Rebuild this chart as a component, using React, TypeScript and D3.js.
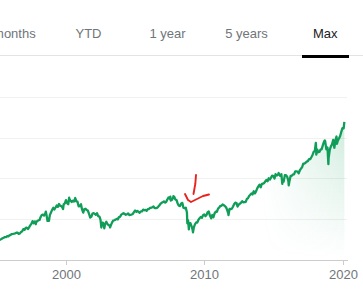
import React from "react";
import * as d3 from "d3";

// Tabs above the chart
const tabLabels = ["6 months", "YTD", "1 year", "5 years", "Max"];
const selectedTab = "Max";

// S&P 500 month-end closes, Jan 1995 .. Jan 2020
const startYear = 1995;
const monthlyClose = [
  470, 487, 500, 515, 533, 545, 562, 562, 584, 582, 605, 616,
  636, 640, 645, 654, 669, 671, 640, 652, 687, 705, 757, 741,
  786, 791, 757, 801, 848, 885, 954, 899, 947, 915, 955, 970,
  980, 1049, 1102, 1112, 1091, 1134, 1121, 957, 1017, 1099, 1164, 1229,
  1280, 1238, 1286, 1335, 1302, 1373, 1329, 1320, 1283, 1363, 1389, 1469,
  1394, 1366, 1499, 1452, 1421, 1455, 1431, 1518, 1437, 1429, 1315, 1320,
  1366, 1240, 1160, 1249, 1256, 1224, 1211, 1134, 1041, 1060, 1139, 1148,
  1130, 1107, 1147, 1077, 1067, 990, 912, 916, 815, 886, 936, 880,
  856, 841, 848, 917, 964, 975, 990, 1008, 996, 1051, 1058, 1112,
  1131, 1145, 1126, 1107, 1121, 1141, 1102, 1104, 1115, 1130, 1174, 1212,
  1181, 1204, 1181, 1157, 1192, 1191, 1234, 1220, 1229, 1207, 1249, 1248,
  1280, 1281, 1295, 1311, 1270, 1270, 1277, 1304, 1336, 1378, 1401, 1418,
  1438, 1407, 1421, 1482, 1531, 1503, 1455, 1474, 1527, 1549, 1481, 1468,
  1379, 1331, 1323, 1386, 1400, 1280, 1267, 1283, 1165, 969, 896, 903,
  826, 735, 798, 873, 919, 919, 987, 1021, 1057, 1036, 1096, 1115,
  1074, 1104, 1169, 1187, 1089, 1031, 1102, 1049, 1141, 1183, 1181, 1258,
  1286, 1327, 1326, 1364, 1345, 1321, 1292, 1219, 1131, 1253, 1247, 1258,
  1312, 1366, 1408, 1398, 1310, 1362, 1379, 1407, 1441, 1412, 1416, 1426,
  1498, 1515, 1569, 1598, 1631, 1606, 1686, 1633, 1682, 1757, 1806, 1848,
  1783, 1859, 1872, 1884, 1924, 1960, 1931, 2003, 1972, 2018, 2068, 2059,
  1995, 2105, 2068, 2086, 2107, 2063, 2104, 1972, 1920, 2079, 2080, 2044,
  1940, 1932, 2060, 2065, 2097, 2099, 2174, 2171, 2168, 2126, 2199, 2239,
  2279, 2364, 2363, 2384, 2412, 2423, 2470, 2472, 2519, 2575, 2648, 2674,
  2824, 2714, 2641, 2648, 2705, 2718, 2816, 2902, 2914, 2712, 2760, 2507,
  2704, 2784, 2834, 2946, 2752, 2942, 2980, 2926, 2977, 3038, 3141, 3231,
  3226,
];

// Intra-month swing highs / lows
const swingPoints: [string, number][] = [
  ["1997-10-27", 877],
  ["1998-07-17", 1187],
  ["1998-10-08", 959],
  ["1999-10-15", 1247],
  ["2000-03-24", 1527],
  ["2000-09-01", 1520],
  ["2002-07-23", 797],
  ["2002-10-09", 777],
  ["2003-03-11", 800],
  ["2007-07-19", 1553],
  ["2007-10-09", 1565],
  ["2008-10-10", 899],
  ["2008-11-20", 752],
  ["2009-03-09", 677],
  ["2010-07-02", 1023],
  ["2011-10-03", 1099],
  ["2015-05-21", 2131],
  ["2015-08-25", 1867],
  ["2016-02-11", 1829],
  ["2018-01-26", 2873],
  ["2018-02-08", 2581],
  ["2018-09-20", 2931],
  ["2018-12-24", 2351],
  ["2019-07-26", 3026],
  ["2019-08-05", 2844],
  ["2020-02-19", 3386],
];

const xTickYears = [2000, 2010, 2020];
const yGridValues = [1000, 2000, 3000, 4000];

type Pt = { date: Date; value: number };

const points: Pt[] = [
  ...monthlyClose.map((v, i) => ({
    date: new Date(startYear + Math.floor(i / 12), (i % 12) + 1, 0),
    value: v,
  })),
  ...swingPoints.map(([d, v]) => ({ date: new Date(d + "T00:00:00"), value: v })),
].sort((a, b) => +a.date - +b.date);

const W = 363;
const H = 299;
const GREEN = "#0f9d58";

export default function App() {
  const x = d3
    .scaleTime()
    .domain([new Date(2000, 0, 1), new Date(2020, 0, 1)])
    .range([66, 342.5]);
  const y = d3.scaleLinear().domain([0, 5000]).range([260, 56]);

  const line = d3
    .line<Pt>()
    .x((d) => x(d.date))
    .y((d) => y(d.value));
  const area = d3
    .area<Pt>()
    .x((d) => x(d.date))
    .y0(y(0))
    .y1((d) => y(d.value));

  const tabX: Record<string, number> = {
    "6 months": 35.7,
    YTD: 88.5,
    "1 year": 167.5,
    "5 years": 246.5,
    Max: 325.3,
  };

  return (
    <svg
      width={W}
      height={H}
      style={{ position: "absolute", left: 0, top: 0, background: "#fff" }}
      fontFamily="'Liberation Sans', Arial, sans-serif"
    >
      <defs>
        <linearGradient id="fillV" gradientUnits="userSpaceOnUse" x1="0" y1="120" x2="0" y2="258">
          <stop offset="0" stopColor={GREEN} stopOpacity={0.2} />
          <stop offset="1" stopColor={GREEN} stopOpacity={0} />
        </linearGradient>
        <linearGradient id="fillH" gradientUnits="userSpaceOnUse" x1="262" y1="0" x2="344" y2="0">
          <stop offset="0" stopColor="#fff" stopOpacity={0} />
          <stop offset="1" stopColor="#fff" stopOpacity={1} />
        </linearGradient>
        <mask id="fadeMask">
          <rect x={0} y={0} width={W} height={H} fill="url(#fillH)" />
        </mask>
      </defs>

      {/* tabs */}
      {tabLabels.map((t) => (
        <text
          key={t}
          x={tabX[t]}
          y={38}
          fontSize={13}
          textAnchor={t === "6 months" ? "end" : "middle"}
          fill={t === selectedTab ? "#202124" : "#70757a"}
        >
          {t}
        </text>
      ))}
      <rect x={0} y={55} width={W} height={1} fill="#e3e3e3" />
      <rect x={302} y={55} width={47} height={3} fill="#000" />

      {/* gridlines */}
      {yGridValues.map((v) => (
        <line key={v} x1={0} x2={347} y1={Math.round(y(v)) + 0.5} y2={Math.round(y(v)) + 0.5} stroke="#f1f1f1" />
      ))}

      {/* area + line */}
      <path d={area(points) || ""} fill="url(#fillV)" mask="url(#fadeMask)" />
      <path d={line(points) || ""} fill="none" stroke={GREEN} strokeWidth={2.3} strokeLinejoin="round" />

      {/* x axis */}
      <line x1={0} x2={348} y1={260.5} y2={260.5} stroke="#cccccc" strokeWidth={1.2} />
      {xTickYears.map((yr) => {
        const px = Math.round(x(new Date(yr, 0, 1))) + 0.5;
        return (
          <g key={yr}>
            <line x1={px} x2={px} y1={260} y2={265} stroke="#cccccc" />
            <text x={px} y={278.5} fontSize={13} textAnchor="middle" fill="#70757a">
              {yr}
            </text>
          </g>
        );
      })}

      {/* hand-drawn red annotation */}
      <path d="M196,175 L195.3,184 L193.5,194" fill="none" stroke="#e8231f" strokeWidth={1.9} strokeLinecap="round" />
      <path
        d="M185,194 L188,200 L191,202 L197,199 L203,196 L209,194.5"
        fill="none"
        stroke="#e8231f"
        strokeWidth={1.9}
        strokeLinecap="round"
        strokeLinejoin="round"
      />
    </svg>
  );
}
